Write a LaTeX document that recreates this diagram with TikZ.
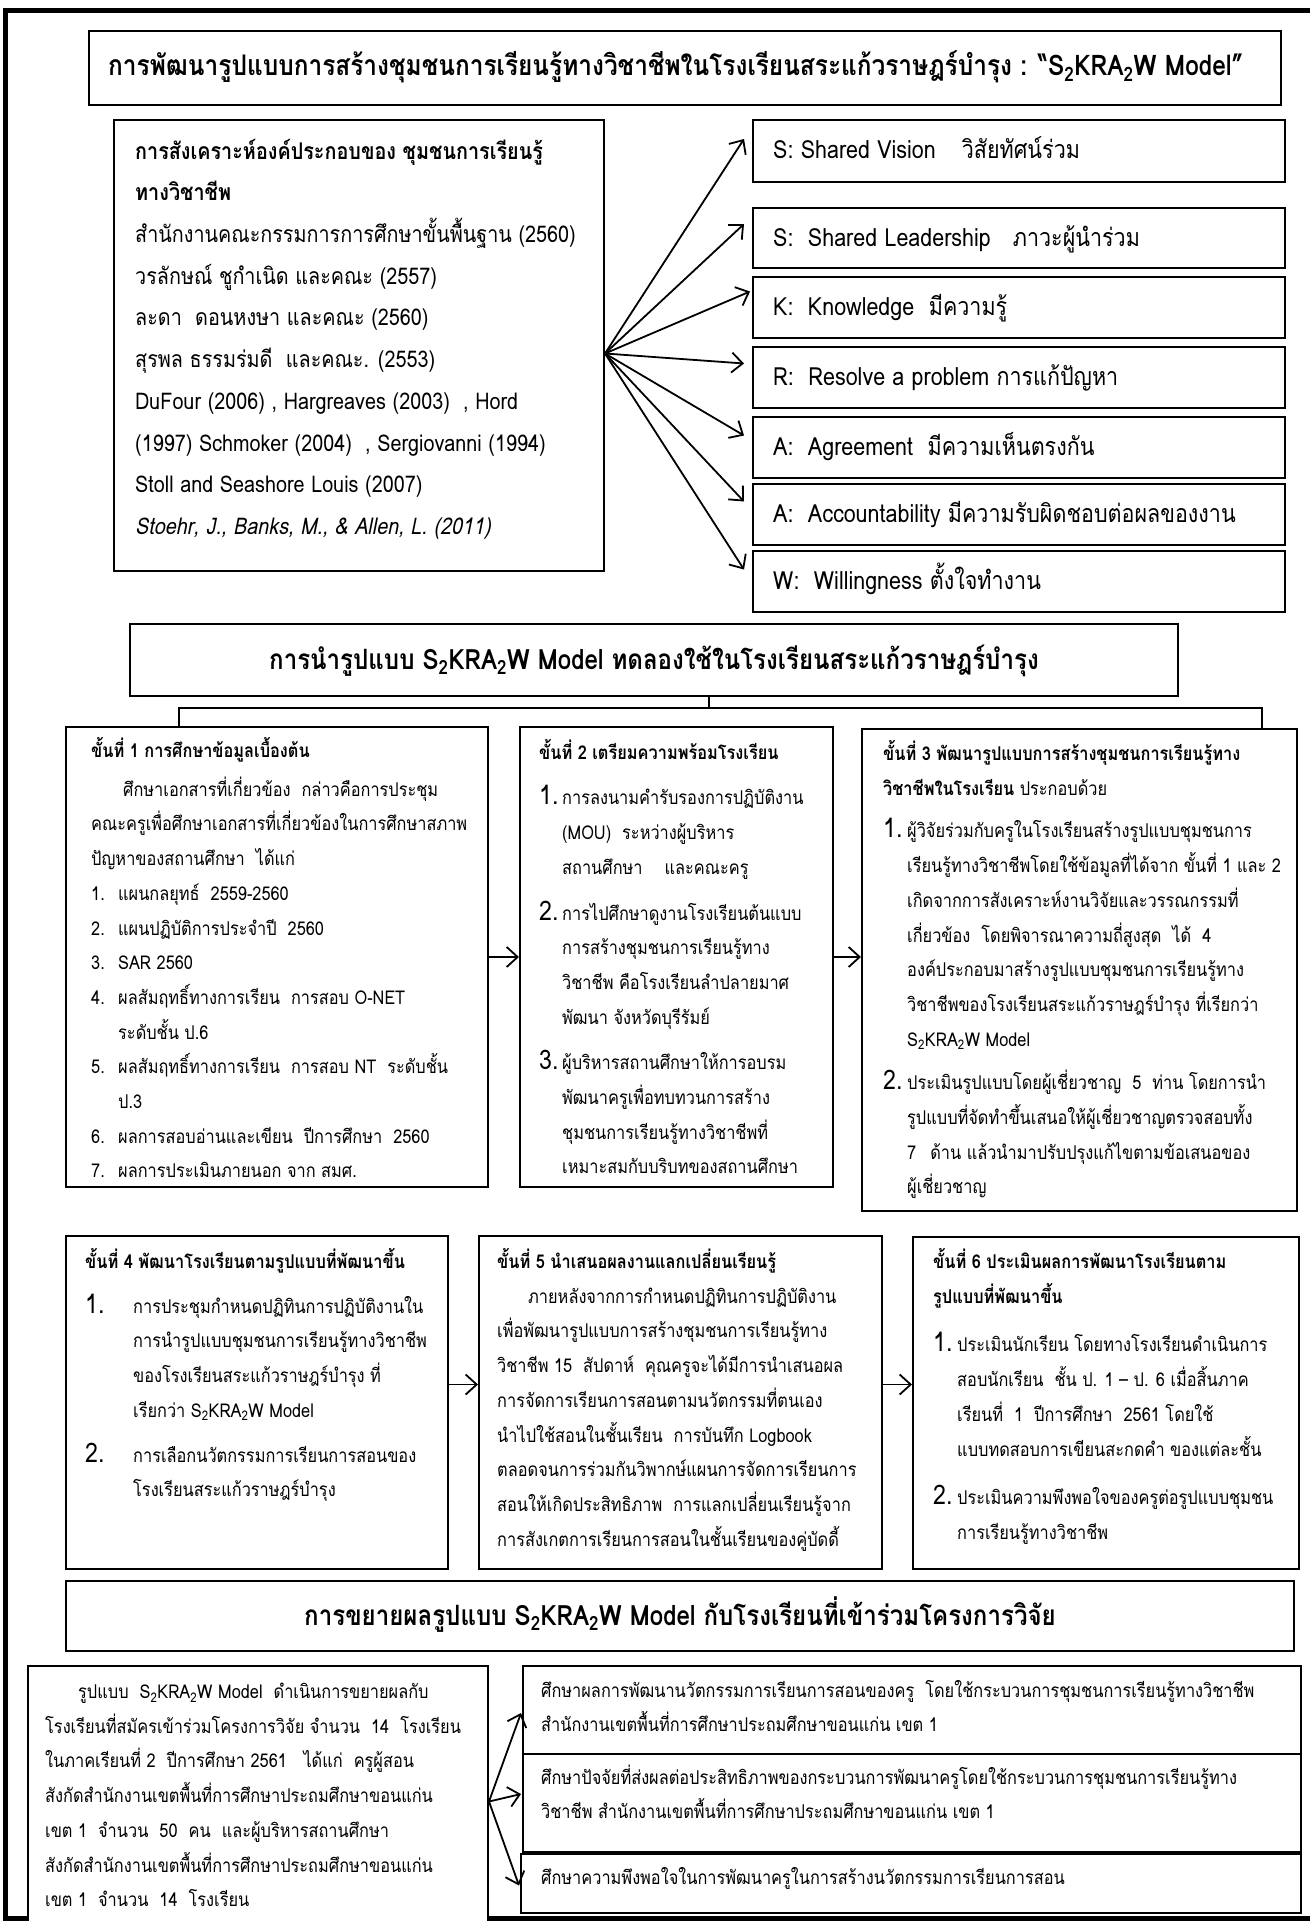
\documentclass[tikz,border=0pt]{standalone}
\usepackage{fontspec}
\setmainfont[Script=Thai,FakeStretch=0.86]{Loma}
\newfontfamily\lomasl[Script=Thai,FakeSlant=0.2,FakeStretch=0.86]{Loma}
\usetikzlibrary{arrows.meta,calc}
\newcommand\fs[2]{\fontsize{#1}{#2}\selectfont}
\newcommand\skw{S\textsubscript{2}KRA\textsubscript{2}W}
\newcommand\bign[2]{\makebox[#1][l]{\fontsize{27}{27}\selectfont #2}}
\newcommand\nm[1]{\makebox[27pt][l]{#1}}
\begin{document}
\begin{tikzpicture}[x=1pt,y=-1pt,
 box/.style={draw, line width=2pt, fill=white, inner sep=0pt, anchor=north west},
 arr/.style={line width=1.8pt, -{Straight Barb[length=11pt,width=20pt,line width=1.8pt]}},
 conn/.style={line width=1.6pt},
 ltxt/.style={anchor=north west, inner sep=0pt, align=left, font=\fs{23}{41.7}},
 rtxt/.style={anchor=base west, inner sep=0pt, font=\fs{25}{28}},
 stxt/.style={anchor=north west, inner sep=0pt, align=left, font=\fs{19}{34.7}},
 btxt/.style={anchor=north west, inner sep=0pt, align=left, font=\fs{19}{34.5}},
 ttl/.style={inner sep=0pt, font=\fs{28}{32}\bfseries},
]
\useasboundingbox (0,0) rectangle (1309,1921);
% outer frame
\draw[line width=5pt] (5,11) rectangle (1340,1918);

% ---------- section 1 ----------
\node[box, minimum width=1192pt, minimum height=74pt] (T1) at (88,30) {};
\node[ttl, anchor=base west, font=\fs{28.4}{32}\bfseries] (T1t) at ([xshift=20pt,yshift=-8pt]T1.west)
 {การพัฒนารูปแบบการสร้างชุมชนการเรียนรู้ทางวิชาชีพในโรงเรียนสระแก้วราษฎร์บำรุง : “\skw\ Model”};

\node[box, minimum width=490pt, minimum height=451pt] (L) at (113,119) {};
\node[ltxt] (Lt) at (135,129.8) {\strut\textbf{การสังเคราะห์องค์ประกอบของ ชุมชนการเรียนรู้}\\
\textbf{ทางวิชาชีพ}\\
สำนักงานคณะกรรมการการศึกษาขั้นพื้นฐาน (2560)\\
วรลักษณ์ ชูกำเนิด และคณะ (2557)\\
ละดา\ \ ดอนหงษา และคณะ (2560)\\
สุรพล ธรรมร่มดี\ \ และคณะ. (2553)\\
DuFour (2006) , Hargreaves (2003)\ \ , Hord\\
(1997) Schmoker (2004)\ \ , Sergiovanni (1994)\\
Stoll and Seashore Louis (2007)\\
{\lomasl Stoehr, J., Banks, M., \& Allen, L. (2011)}};

\node[box, minimum width=532pt, minimum height=62pt] (R1) at (752,119) {};
\node[box, minimum width=532pt, minimum height=60pt] (R2) at (752,207) {};
\node[box, minimum width=532pt, minimum height=61pt] (R3) at (752,276) {};
\node[box, minimum width=532pt, minimum height=61pt] (R4) at (752,346) {};
\node[box, minimum width=532pt, minimum height=61pt] (R5) at (752,416) {};
\node[box, minimum width=532pt, minimum height=61pt] (R6) at (752,483) {};
\node[box, minimum width=532pt, minimum height=61pt] (R7) at (752,550) {};
\node[rtxt] (R1t) at ([xshift=21pt,yshift=-8pt]R1.west) {S: Shared Vision\hspace{26pt}วิสัยทัศน์ร่วม};
\node[rtxt] (R2t) at ([xshift=21pt,yshift=-8pt]R2.west) {S:\ \ Shared Leadership\hspace{22pt}ภาวะผู้นำร่วม};
\node[rtxt] (R3t) at ([xshift=21pt,yshift=-8pt]R3.west) {K:\ \ Knowledge\ \ มีความรู้};
\node[rtxt] (R4t) at ([xshift=21pt,yshift=-8pt]R4.west) {R:\ \ Resolve a problem การแก้ปัญหา};
\node[rtxt] (R5t) at ([xshift=21pt,yshift=-8pt]R5.west) {A:\ \ Agreement\ \ มีความเห็นตรงกัน};
\node[rtxt] (R6t) at ([xshift=21pt,yshift=-8pt]R6.west) {A:\ \ Accountability มีความรับผิดชอบต่อผลของงาน};
\node[rtxt] (R7t) at ([xshift=21pt,yshift=-8pt]R7.west) {W:\ \ Willingness ตั้งใจทำงาน};

\coordinate (fan) at ([yshift=-8pt]L.east);
\draw[arr] (fan) -- ([xshift=-8pt,yshift=12pt]R1.west);
\draw[arr] (fan) -- ([xshift=-8pt,yshift=14pt]R2.west);
\draw[arr] (fan) -- ([xshift=-2pt,yshift=16pt]R3.west);
\draw[arr] (fan) -- ([xshift=-8pt,yshift=14pt]R4.west);
\draw[arr] (fan) -- ([xshift=-8pt,yshift=12pt]R5.west);
\draw[arr] (fan) -- ([xshift=-8pt,yshift=13pt]R6.west);
\draw[arr] (fan) -- ([xshift=-8pt,yshift=12pt]R7.west);

% ---------- section 2 ----------
\node[box, minimum width=1048pt, minimum height=72pt] (S2) at (129,623) {};
\node[ttl, anchor=base] (S2tt) at ([yshift=-9pt]S2.center) {การนำรูปแบบ \skw\ Model ทดลองใช้ในโรงเรียนสระแก้วราษฎร์บำรุง};

\node[box, minimum width=422pt, minimum height=460pt] (St1) at (65,726) {};
\node[box, minimum width=313pt, minimum height=460pt] (St2) at (519,726) {};
\node[box, minimum width=435pt, minimum height=482pt] (St3) at (861,728) {};

\coordinate (bl) at (179,708);
\coordinate (br) at (1262,708);
\draw[conn] ([xshift=55pt]S2.south) -- ([xshift=55pt]S2.south |- bl);
\draw[conn] (bl |- St1.north) -- (bl) -- (br) -- (br |- St3.north);

\node[stxt] (St1t) at (91,733) {\strut\textbf{ขั้นที่ 1 การศึกษาข้อมูลเบื้องต้น}\\[4pt]
\hspace*{32pt}ศึกษาเอกสารที่เกี่ยวข้อง\ \ กล่าวคือการประชุม\\
คณะครูเพื่อศึกษาเอกสารที่เกี่ยวข้องในการศึกษาสภาพ\\
ปัญหาของสถานศึกษา\ \ ได้แก่\\
\nm{1.}แผนกลยุทธ์\ \ 2559-2560\\
\nm{2.}แผนปฏิบัติการประจำปี\ \ 2560\\
\nm{3.}SAR 2560\\
\nm{4.}ผลสัมฤทธิ์ทางการเรียน\ \ การสอบ O-NET\\
\nm{}ระดับชั้น ป.6\\
\nm{5.}ผลสัมฤทธิ์ทางการเรียน\ \ การสอบ NT\ \ ระดับชั้น\\
\nm{}ป.3\\
\nm{6.}ผลการสอบอ่านและเขียน\ \ ปีการศึกษา\ \ 2560\\
\nm{7.}ผลการประเมินภายนอก จาก สมศ.};

\node[stxt] (St2t) at (539,734.7) {\strut\textbf{ขั้นที่ 2 เตรียมความพร้อมโรงเรียน}\\[11pt]
\bign{23pt}{1.}การลงนามคำรับรองการปฏิบัติงาน\\
\hspace*{23pt}(MOU)\ \ ระหว่างผู้บริหาร\\
\hspace*{23pt}สถานศึกษา\hspace{22pt}และคณะครู\\[11pt]
\bign{23pt}{2.}การไปศึกษาดูงานโรงเรียนต้นแบบ\\
\hspace*{23pt}การสร้างชุมชนการเรียนรู้ทาง\\
\hspace*{23pt}วิชาชีพ คือโรงเรียนลำปลายมาศ\\
\hspace*{23pt}พัฒนา จังหวัดบุรีรัมย์\\[11pt]
\bign{23pt}{3.}ผู้บริหารสถานศึกษาให้การอบรม\\
\hspace*{23pt}พัฒนาครูเพื่อทบทวนการสร้าง\\
\hspace*{23pt}ชุมชนการเรียนรู้ทางวิชาชีพที่\\
\hspace*{23pt}เหมาะสมกับบริบทของสถานศึกษา};

\node[stxt] (St3t) at (883,736) {\strut\textbf{ขั้นที่ 3 พัฒนารูปแบบการสร้างชุมชนการเรียนรู้ทาง}\\
\textbf{วิชาชีพในโรงเรียน} ประกอบด้วย\\[8pt]
\bign{24pt}{1.}ผู้วิจัยร่วมกับครูในโรงเรียนสร้างรูปแบบชุมชนการ\\
\hspace*{24pt}เรียนรู้ทางวิชาชีพโดยใช้ข้อมูลที่ได้จาก ขั้นที่ 1 และ 2\\
\hspace*{24pt}เกิดจากการสังเคราะห์งานวิจัยและวรรณกรรมที่\\
\hspace*{24pt}เกี่ยวข้อง\ \ โดยพิจารณาความถี่สูงสุด\ \ ได้\ \ 4\\
\hspace*{24pt}องค์ประกอบมาสร้างรูปแบบชุมชนการเรียนรู้ทาง\\
\hspace*{24pt}วิชาชีพของโรงเรียนสระแก้วราษฎร์บำรุง ที่เรียกว่า\\
\hspace*{24pt}\skw\ Model\\[9pt]
\bign{24pt}{2.}ประเมินรูปแบบโดยผู้เชี่ยวชาญ\ \ 5\ \ ท่าน โดยการนำ\\
\hspace*{24pt}รูปแบบที่จัดทำขึ้นเสนอให้ผู้เชี่ยวชาญตรวจสอบทั้ง\\
\hspace*{24pt}7\hspace{14pt}ด้าน แล้วนำมาปรับปรุงแก้ไขตามข้อเสนอของ\\
\hspace*{24pt}ผู้เชี่ยวชาญ};

\draw[arr] (St1.east) -- (St1.east -| St2.west);
\draw[arr] (St2.east) -- (St2.east -| St3.west);

% ---------- steps 4-6 ----------
\node[box, minimum width=382pt, minimum height=333pt] (St4) at (65,1235) {};
\node[box, minimum width=403pt, minimum height=333pt] (St5) at (478,1235) {};
\node[box, minimum width=386pt, minimum height=332pt] (St6) at (912,1236) {};

\node[stxt] (St4t) at (85,1244) {\strut\textbf{ขั้นที่ 4 พัฒนาโรงเรียนตามรูปแบบที่พัฒนาขึ้น}\\[10pt]
\bign{48pt}{1.}การประชุมกำหนดปฏิทินการปฏิบัติงานใน\\
\hspace*{48pt}การนำรูปแบบชุมชนการเรียนรู้ทางวิชาชีพ\\
\hspace*{48pt}ของโรงเรียนสระแก้วราษฎร์บำรุง ที่\\
\hspace*{48pt}เรียกว่า \skw\ Model\\[10pt]
\bign{48pt}{2.}การเลือกนวัตกรรมการเรียนการสอนของ\\
\hspace*{48pt}โรงเรียนสระแก้วราษฎร์บำรุง};

\node[stxt] (St5t) at (497,1244) {\strut\textbf{ขั้นที่ 5 นำเสนอผลงานแลกเปลี่ยนเรียนรู้}\\
\hspace*{31pt}ภายหลังจากการกำหนดปฏิทินการปฏิบัติงาน\\
เพื่อพัฒนารูปแบบการสร้างชุมชนการเรียนรู้ทาง\\
วิชาชีพ 15\ \ สัปดาห์\ \ คุณครูจะได้มีการนำเสนอผล\\
การจัดการเรียนการสอนตามนวัตกรรมที่ตนเอง\\
นำไปใช้สอนในชั้นเรียน\ \ การบันทึก Logbook\\
ตลอดจนการร่วมกันวิพากษ์แผนการจัดการเรียนการ\\
สอนให้เกิดประสิทธิภาพ\ \ การแลกเปลี่ยนเรียนรู้จาก\\
การสังเกตการเรียนการสอนในชั้นเรียนของคู่บัดดี้};

\node[stxt] (St6t) at (933,1244) {\strut\textbf{ขั้นที่ 6 ประเมินผลการพัฒนาโรงเรียนตาม}\\
\textbf{รูปแบบที่พัฒนาขึ้น}\\[14pt]
\bign{24pt}{1.}ประเมินนักเรียน โดยทางโรงเรียนดำเนินการ\\
\hspace*{24pt}สอบนักเรียน\ \ ชั้น ป. 1 – ป. 6 เมื่อสิ้นภาค\\
\hspace*{24pt}เรียนที่\ \ 1\ \ ปีการศึกษา\ \ 2561 โดยใช้\\
\hspace*{24pt}แบบทดสอบการเขียนสะกดคำ ของแต่ละชั้น\\[14pt]
\bign{24pt}{2.}ประเมินความพึงพอใจของครูต่อรูปแบบชุมชน\\
\hspace*{24pt}การเรียนรู้ทางวิชาชีพ};

\draw[arr] ([yshift=18pt]St4.east) -- ([yshift=18pt]St4.east -| St5.west);
\draw[arr] ([yshift=18pt]St5.east) -- ([yshift=18pt]St5.east -| St6.west);

% ---------- section 3 ----------
\node[box, minimum width=1228pt, minimum height=70pt] (S3) at (65,1580) {};
\node[ttl, anchor=base] (S3tt) at ([yshift=-9pt]S3.center) {การขยายผลรูปแบบ \skw\ Model กับโรงเรียนที่เข้าร่วมโครงการวิจัย};

\node[box, minimum width=460pt, minimum height=275pt] (BL) at (27,1665) {};
\node[stxt] (BLt) at (45,1674) {\strut\hspace*{33pt}รูปแบบ\ \ \skw\ Model\ \ ดำเนินการขยายผลกับ\\
โรงเรียนที่สมัครเข้าร่วมโครงการวิจัย จำนวน\ \ 14\ \ โรงเรียน\\
ในภาคเรียนที่ 2\ \ ปีการศึกษา 2561\ \ \ ได้แก่\ \ ครูผู้สอน\\
สังกัดสำนักงานเขตพื้นที่การศึกษาประถมศึกษาขอนแก่น\\
เขต 1\ \ จำนวน\ \ 50\ \ คน\ \ และผู้บริหารสถานศึกษา\\
สังกัดสำนักงานเขตพื้นที่การศึกษาประถมศึกษาขอนแก่น\\
เขต 1\ \ จำนวน\ \ 14\ \ โรงเรียน};

\node[box, minimum width=778pt, minimum height=88pt] (BA) at (522,1665) {};
\node[box, minimum width=778pt, minimum height=98pt] (BB) at (522,1753) {};
\node[box, minimum width=780pt, minimum height=59pt] (BC) at (520,1853) {};
\node[btxt] (BAt) at (541,1673) {\strut ศึกษาผลการพัฒนานวัตกรรมการเรียนการสอนของครู\ \ โดยใช้กระบวนการชุมชนการเรียนรู้ทางวิชาชีพ\\
สำนักงานเขตพื้นที่การศึกษาประถมศึกษาขอนแก่น เขต 1};
\node[btxt] (BBt) at (541,1760) {\strut ศึกษาปัจจัยที่ส่งผลต่อประสิทธิภาพของกระบวนการพัฒนาครูโดยใช้กระบวนการชุมชนการเรียนรู้ทาง\\
วิชาชีพ สำนักงานเขตพื้นที่การศึกษาประถมศึกษาขอนแก่น เขต 1};
\node[btxt] (BCt) at (541,1860) {\strut ศึกษาความพึงพอใจในการพัฒนาครูในการสร้างนวัตกรรมการเรียนการสอน};

\coordinate (bfan) at ([yshift=2pt]BL.east);
\draw[arr] (bfan) -- ([xshift=-1pt,yshift=-3pt]BA.west);
\draw[arr] (bfan) -- ([xshift=-1pt,yshift=9pt]BB.west);
\draw[arr] (bfan) -- ([xshift=-1pt,yshift=-2pt]BC.west);
\end{tikzpicture}
\end{document}
